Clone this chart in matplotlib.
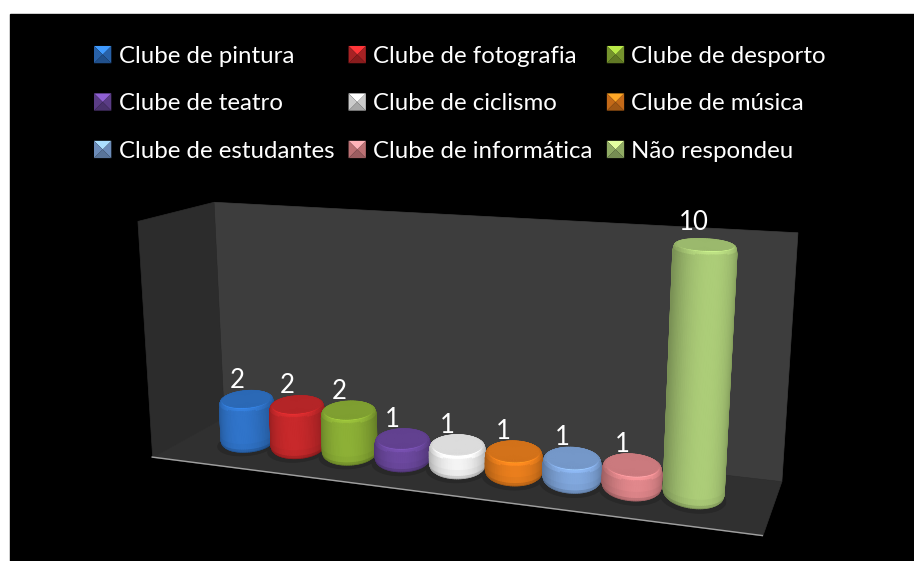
import numpy as np
import matplotlib
matplotlib.use("Agg")
import matplotlib.pyplot as plt
from matplotlib.colors import to_rgb
from matplotlib.legend_handler import HandlerBase
from matplotlib.patches import Polygon, Rectangle
from mpl_toolkits.mplot3d import proj3d
from mpl_toolkits.mplot3d.art3d import Poly3DCollection

categories = ["Clube de pintura", "Clube de fotografia", "Clube de desporto",
              "Clube de teatro", "Clube de ciclismo", "Clube de música",
              "Clube de estudantes", "Clube de informática", "Não respondeu"]
values = [2, 2, 2, 1, 1, 1, 1, 1, 10]
colors = ["#2f72c6", "#c4282a", "#8aad35", "#6a479c", "#efefef",
          "#e57c1c", "#7fa5da", "#dd8589", "#a9c976"]

plt.rcParams['font.family'] = ['Lato', 'DejaVu Sans']

W, H = 914, 561
fig = plt.figure(figsize=(W/100, H/100), dpi=100, facecolor="white")
fig.add_artist(Rectangle((10/W, 0), (W-10)/W, (H-14)/H, transform=fig.transFigure,
                         color="black", zorder=-1))

# camera fitted against the corners of the box in the picture
ELEV, AZIM, ROLL, FOCAL = 14.3489, -70.0540, 0.0483, np.exp(-1.0332)
BOX = (2.5225, 0.5961, 1.0)
AX_L, AX_T, AX_S = 111.7878, 22.4604, 674.3286
x_min, x_max = -0.1126/0.0960, (1 - 0.1126)/0.0960
z_max = 10/0.9813
y_c = 0.5240

ax = fig.add_axes([AX_L/W, (H - AX_T - AX_S)/H, AX_S/W, AX_S/H], projection='3d')
ax.set_axis_off()
ax.patch.set_visible(False)
ax.computed_zorder = False
ax.view_init(elev=ELEV, azim=AZIM, roll=ROLL)
ax.set_proj_type('persp', focal_length=float(FOCAL))
ax.set_box_aspect(BOX)

def wall(v, color, z=0):
    ax.add_collection3d(Poly3DCollection([v], facecolors=color, edgecolors=color,
                                         linewidths=0.5, zorder=z), autolim=False)

wall([(x_min, 1, 0), (x_max, 1, 0), (x_max, 1, z_max), (x_min, 1, z_max)], "#3d3d3d")
wall([(x_min, 0, 0), (x_min, 1, 0), (x_min, 1, z_max), (x_min, 0, z_max)], "#2c2c2c")
wall([(x_min, 0, 0), (x_max, 0, 0), (x_max, 1, 0), (x_min, 1, 0)], "#303030", 0.5)
ax.plot([x_min, x_max], [0, 0], [0, 0], color="#a0a0a0", lw=1, zorder=0.6)

# the bars in the picture keep a level ellipse, so build it in the camera frame
az = np.radians(AZIM)
sx = BOX[0]*0.0960
sy = BOX[1]
half_w = 0.50*0.94*sx
half_d = half_w*1.3

def ring(i, t, k=1.0, dy=0.0):
    wx = k*(half_w*np.cos(t)*(-np.sin(az)) + half_d*np.sin(t)*np.cos(az))
    wy = k*(half_w*np.cos(t)*np.cos(az) + half_d*np.sin(t)*np.sin(az))
    return i + wx/sx, y_c + dy + wy/sy

th = np.linspace(0, 2*np.pi, 91)
tm = 0.5*(th[1:] + th[:-1])
f = np.clip(np.sin(tm), 0, 1)
band = np.array([0.72, 0.85, 0.97, 1.0, 1.0, 1.1, 1.22])
for i, (v, col) in enumerate(zip(values, colors)):
    base = np.array(to_rgb(col))
    z0 = 2 + i
    sx_, sy_ = ring(i, th, 1.08, -0.03)
    wall(list(zip(sx_, sy_, np.zeros_like(th))), "#282828", z0)
    zs = np.array([0, 0.08, 0.2, 0.45, v-0.3, v-0.14, v-0.05, v])
    rs = np.array([0.90, 0.97, 1, 1, 1, 0.98, 0.95, 0.88])
    X = np.array([ring(i, th, r)[0] for r in rs])
    Y = np.array([ring(i, th, r)[1] for r in rs])
    Z = np.repeat(zs[:, None], len(th), axis=1)
    fc = np.ones((len(zs)-1, len(th)-1, 4))
    for a in range(len(zs)-1):
        fc[a, :, :3] = np.clip(base[None, :]*(0.72 + 0.30*f[:, None]**1.5)*band[a], 0, 1)
    ax.plot_surface(X, Y, Z, facecolors=fc, shade=False, rstride=1, cstride=1,
                    linewidth=1.0, antialiased=True, zorder=z0 + 0.2)
    rr = np.linspace(0, 0.88, 4)
    Xc = np.array([ring(i, th, r)[0] for r in rr])
    Yc = np.array([ring(i, th, r)[1] for r in rr])
    capcol = np.clip(base*0.92, 0, 1)
    ax.plot_surface(Xc, Yc, np.full_like(Xc, v), color=capcol, shade=False, rstride=1,
                    cstride=1, linewidth=0.5, edgecolor=capcol, antialiased=True,
                    zorder=z0 + 0.4)

ax.set_xlim(x_min, x_max, view_margin=0)
ax.set_ylim(0, 1, view_margin=0)
ax.set_zlim(0, z_max, view_margin=0)
for art in ax.get_children():
    art.set_clip_on(False)

M = ax.get_proj()
for i, v in enumerate(values):
    px, py, _ = proj3d.proj_transform(i - 0.18, y_c, v + 0.8, M)
    ax.text2D(px, py, str(v), color="white", fontsize=18.5, ha="center", va="center",
              transform=ax.transData, zorder=50)

class PyramidHandler(HandlerBase):
    def create_artists(self, legend, orig, xd, yd, w, h, fontsize, trans):
        c = np.array(to_rgb(orig.get_facecolor()[:3]))
        x0, y0 = -xd, -yd + (h - w)/2
        cx, cy = x0 + w/2, y0 + w/2
        corners = [(x0, y0), (x0 + w, y0), (x0 + w, y0 + w), (x0, y0 + w)]
        shades = [0.7, 0.85, 1.35, 0.85]
        out = []
        for k in range(4):
            out.append(Polygon([corners[k], corners[(k+1) % 4], (cx, cy)], edgecolor="none",
                               facecolor=np.clip(c*shades[k], 0, 1), transform=trans))
        return out

handles = [Rectangle((0, 0), 1, 1, facecolor=c) for c in colors]
order = [0, 3, 6, 1, 4, 7, 2, 5, 8]
fig.legend([handles[k] for k in order], [categories[k] for k in order], ncol=3,
           loc="upper left", bbox_to_anchor=(94/W, 1 - 46/H), frameon=False,
           fontsize=17.3, labelcolor="white", handlelength=0.72, handleheight=0.72,
           handletextpad=0.3, columnspacing=0.6, labelspacing=1.1, borderpad=0,
           borderaxespad=0, handler_map={Rectangle: PyramidHandler()})

fig.savefig("out.png", dpi=100, facecolor="white")
